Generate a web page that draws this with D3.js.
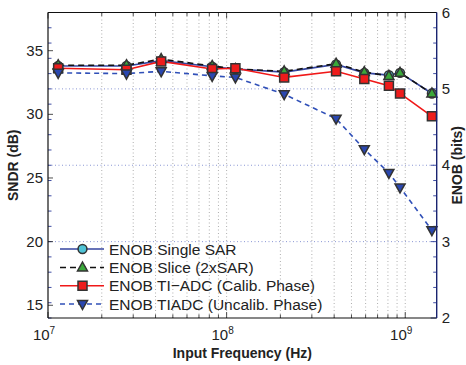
<!DOCTYPE html>
<html>
<head>
<meta charset="utf-8">
<script src="https://cdn.jsdelivr.net/npm/d3@7"></script>
<style>
  body { margin: 0; background: #fff; }
  svg { font-family: "Liberation Sans", Arial, sans-serif; }
</style>
</head>
<body>
<div id="chart"></div>
<script>
var width = 466, height = 365;

// input frequency (Hz)
var freq = [1.14e7, 2.75e7, 4.3e7, 8.3e7, 1.12e8, 2.1e8, 4.1e8, 5.9e8, 8.1e8, 9.35e8, 1.41e9];
// ENOB (bits)
var enobSingle  = [5.30, 5.30, 5.37, 5.29, 5.26, 5.22, 5.32, 5.21, 5.18, 5.21, 4.94];
var enobSlice   = [5.31, 5.31, 5.39, 5.30, 5.26, 5.23, 5.33, 5.22, 5.17, 5.21, 4.94];
var enobCalib   = [5.27, 5.25, 5.36, 5.26, 5.27, 5.15, 5.23, 5.13, 5.04, 4.94, 4.64];
var enobUncalib = [5.21, 5.20, 5.23, 5.17, 5.15, 4.93, 4.61, 4.21, 3.90, 3.71, 3.15];

var sndrTicks = [15, 20, 25, 30, 35];
var enobTicks = [2, 3, 4, 5, 6];
var xDecades = [1e7, 1e8, 1e9];

var pL = 48, pR = 436.7, pT = 12.5, pB = 318;

var x = d3.scaleLog().domain([1e7, 1.5e9]).range([pL, pR]);
var yL = d3.scaleLinear().domain([14, 38]).range([pB, pT]);
var yR = d3.scaleLinear().domain([2, 6]).range([pB, pT]);

var svg = d3.select("#chart").append("svg")
    .attr("width", width).attr("height", height);

// minor x positions
var xMinor = [];
xDecades.forEach(function (d) {
    for (var k = 1; k < 10; k++) {
        var v = d * k;
        if (v > 1e7 && v <= 1.5e9) xMinor.push(v);
    }
});

// vertical grid
svg.append("g").selectAll("line").data(xMinor).enter().append("line")
    .attr("x1", function (d) { return x(d); }).attr("x2", function (d) { return x(d); })
    .attr("y1", pT).attr("y2", pB)
    .attr("stroke", "#9a9a9a").attr("stroke-width", 0.8).attr("stroke-dasharray", "1,2.5");

// horizontal grid (from ENOB axis)
svg.append("g").selectAll("line").data([3, 4, 5]).enter().append("line")
    .attr("x1", pL).attr("x2", pR)
    .attr("y1", function (d) { return yR(d); }).attr("y2", function (d) { return yR(d); })
    .attr("stroke", "#7d8bd0").attr("stroke-width", 0.9).attr("stroke-dasharray", "1,2.5");

// x ticks (inward, bottom and top)
var tickG = svg.append("g").attr("stroke", "#222").attr("stroke-width", 0.8);
xMinor.concat([1e7]).forEach(function (d) {
    var major = xDecades.indexOf(d) >= 0;
    var len = major ? 6 : 3.5;
    tickG.append("line").attr("x1", x(d)).attr("x2", x(d)).attr("y1", pB).attr("y2", pB - len);
    tickG.append("line").attr("x1", x(d)).attr("x2", x(d)).attr("y1", pT).attr("y2", pT + len);
});

// ENOB minor ticks on both sides
var enobMinor = d3.range(2, 6.001, 0.2);
var rg = svg.append("g").attr("stroke", "#2a3a9a").attr("stroke-width", 0.9);
enobMinor.forEach(function (d) {
    var len = Math.abs(d - Math.round(d)) < 1e-6 ? 6 : 3.5;
    rg.append("line").attr("x1", pR).attr("x2", pR - len).attr("y1", yR(d)).attr("y2", yR(d));
    rg.append("line").attr("x1", pL).attr("x2", pL + 3.5).attr("y1", yR(d)).attr("y2", yR(d));
});
// SNDR major ticks
svg.append("g").selectAll("line").data(sndrTicks).enter().append("line")
    .attr("x1", pL).attr("x2", pL + 5)
    .attr("y1", function (d) { return yL(d); }).attr("y2", function (d) { return yL(d); })
    .attr("stroke", "#222").attr("stroke-width", 0.8);

// series
var series = [
    { name: "ENOB Single SAR", values: enobSingle, color: "#3445a0", dash: null, marker: "circle", fill: "#4fc3d6" },
    { name: "ENOB Slice (2xSAR)", values: enobSlice, color: "#111", dash: "6,4", marker: "triangle", fill: "#3aa83a" },
    { name: "ENOB TI\u2212ADC (Calib. Phase)", values: enobCalib, color: "#f01818", dash: null, marker: "square", fill: "#ee1c1c" },
    { name: "ENOB TIADC (Uncalib. Phase)", values: enobUncalib, color: "#3050b8", dash: "5,4", marker: "triangledown", fill: "#2a47b0" }
];

function markerPath(type) {
    if (type === "circle") return d3.symbol().type(d3.symbolCircle).size(62)();
    if (type === "square") return "M-4.5,-4.5H4.5V4.5H-4.5Z";
    if (type === "triangle") return "M0,-5.5L5,3.5L-5,3.5Z";
    return "M0,5.5L5,-3.5L-5,-3.5Z";
}

var line = d3.line()
    .x(function (d) { return x(d[0]); })
    .y(function (d) { return yR(d[1]); });

series.forEach(function (s) {
    var pts = freq.map(function (f, i) { return [f, s.values[i]]; });
    svg.append("path").datum(pts)
        .attr("d", line)
        .attr("fill", "none")
        .attr("stroke", s.color)
        .attr("stroke-width", 1.6)
        .attr("stroke-dasharray", s.dash);
});
series.forEach(function (s) {
    var pts = freq.map(function (f, i) { return [f, s.values[i]]; });
    svg.append("g").selectAll("path").data(pts).enter().append("path")
        .attr("d", markerPath(s.marker))
        .attr("transform", function (d) { return "translate(" + x(d[0]) + "," + yR(d[1]) + ")"; })
        .attr("fill", s.fill)
        .attr("stroke", "#333")
        .attr("stroke-width", 1.5);
});

// box
svg.append("line").attr("x1", pL).attr("x2", pL).attr("y1", pT).attr("y2", pB).attr("stroke", "#111").attr("stroke-width", 1.2);
svg.append("line").attr("x1", pL).attr("x2", pR).attr("y1", pB).attr("y2", pB).attr("stroke", "#111").attr("stroke-width", 1.2);
svg.append("line").attr("x1", pL).attr("x2", pR).attr("y1", pT).attr("y2", pT).attr("stroke", "#111").attr("stroke-width", 1.2);
svg.append("line").attr("x1", pR).attr("x2", pR).attr("y1", pT).attr("y2", pB).attr("stroke", "#1a2470").attr("stroke-width", 1.4);

// tick labels
svg.append("g").selectAll("text").data(sndrTicks).enter().append("text")
    .attr("x", pL - 5).attr("y", function (d) { return yL(d) + 5; })
    .attr("text-anchor", "end").attr("font-size", 15).attr("fill", "#222")
    .text(function (d) { return d; });
svg.append("g").selectAll("text").data(enobTicks).enter().append("text")
    .attr("x", pR + 5).attr("y", function (d) { return yR(d) + 5; })
    .attr("text-anchor", "start").attr("font-size", 15).attr("fill", "#222")
    .text(function (d) { return d; });
xDecades.forEach(function (d) {
    var t = svg.append("text")
        .attr("x", x(d) - 4).attr("y", 340)
        .attr("text-anchor", "middle").attr("font-size", 15).attr("fill", "#222");
    t.append("tspan").text("10");
    t.append("tspan").attr("dy", -6).attr("font-size", 10).text(Math.round(Math.log10(d)));
});

// axis titles
svg.append("text").attr("x", (pL + pR) / 2).attr("y", 358)
    .attr("text-anchor", "middle").attr("font-size", 14).attr("font-weight", "bold").attr("fill", "#222")
    .text("Input Frequency (Hz)");
svg.append("text").attr("transform", "translate(18," + ((pT + pB) / 2) + ") rotate(-90)")
    .attr("text-anchor", "middle").attr("font-size", 14).attr("font-weight", "bold").attr("fill", "#222")
    .text("SNDR (dB)");
svg.append("text").attr("transform", "translate(462," + ((pT + pB) / 2) + ") rotate(-90)")
    .attr("text-anchor", "middle").attr("font-size", 14).attr("font-weight", "bold").attr("fill", "#222")
    .text("ENOB (bits)");

// legend
var leg = svg.append("g");
var rowY = [249, 267.5, 285.8, 304];
series.forEach(function (s, i) {
    var g = leg.append("g").attr("transform", "translate(0," + rowY[i] + ")");
    g.append("line").attr("x1", 60).attr("x2", 104).attr("y1", 0).attr("y2", 0)
        .attr("stroke", s.color).attr("stroke-width", 1.6).attr("stroke-dasharray", s.dash);
    g.append("path").attr("d", markerPath(s.marker)).attr("transform", "translate(82.5,0)")
        .attr("fill", s.fill).attr("stroke", "#333").attr("stroke-width", 1.5);
    g.append("text").attr("x", 109).attr("y", 5.5).attr("font-size", 15.5).attr("fill", "#222")
        .text(s.name);
});
</script>
</body>
</html>
